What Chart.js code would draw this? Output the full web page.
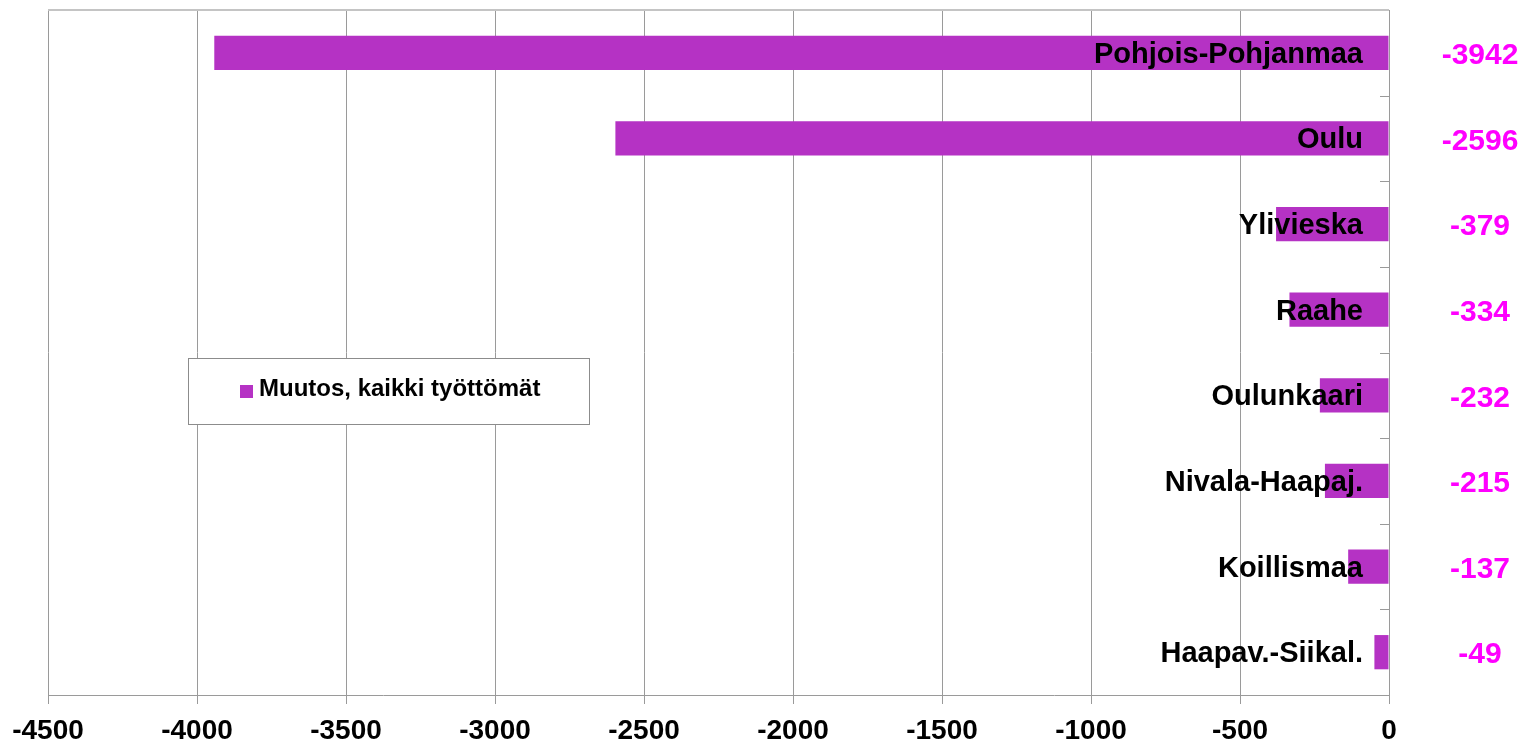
<!DOCTYPE html>
<html>
<head>
<meta charset="utf-8">
<script src="https://cdn.jsdelivr.net/npm/chart.js@4/dist/chart.umd.min.js"></script>
<style>
  html, body { margin: 0; padding: 0; background: #fff; }
  #wrap { width: 1526px; height: 744px; }
</style>
</head>
<body>
<div id="wrap"><canvas id="chart" width="1526" height="744"></canvas></div>
<script>
var regions = ['Pohjois-Pohjanmaa', 'Oulu', 'Ylivieska', 'Raahe', 'Oulunkaari', 'Nivala-Haapaj.', 'Koillismaa', 'Haapav.-Siikal.'];
var change = [-3942, -2596, -379, -334, -232, -215, -137, -49];
var seriesName = 'Muutos, kaikki työttömät';
var xMin = -4500;
var xMax = 0;
var xStep = 500;

var FONT = '"Liberation Sans", Arial, sans-serif';
var BAR = '#B532C4';
var GRID = '#9a9a9a';

// labels, value column, inner ticks, top border and the boxed legend
var decor = {
  id: 'decor',
  afterDatasetsDraw: function(chart) {
    var ctx = chart.ctx;
    var xs = chart.scales.x;
    var ys = chart.scales.y;
    var area = chart.chartArea;
    var zero = xs.getPixelForValue(0);
    ctx.save();

    // top border
    ctx.strokeStyle = '#c4c4c4';
    ctx.lineWidth = 2;
    ctx.beginPath();
    ctx.moveTo(area.left, area.top);
    ctx.lineTo(area.right, area.top);
    ctx.stroke();

    // small inward ticks between the categories
    ctx.strokeStyle = GRID;
    ctx.lineWidth = 1;
    var step = (area.bottom - area.top) / regions.length;
    for (var k = 1; k < regions.length; k++) {
      var ty = Math.round(area.top + step * k) + 0.5;
      ctx.beginPath();
      ctx.moveTo(zero - 9, ty);
      ctx.lineTo(zero, ty);
      ctx.stroke();
    }

    // category names + values
    ctx.textBaseline = 'middle';
    regions.forEach(function(name, i) {
      var y = ys.getPixelForValue(i);
      ctx.font = 'bold 29px ' + FONT;
      ctx.fillStyle = '#000';
      ctx.textAlign = 'right';
      ctx.fillText(name, zero - 26, y + 2);

      ctx.font = 'bold 30px ' + FONT;
      ctx.fillStyle = '#FF00FF';
      ctx.textAlign = 'center';
      ctx.fillText(String(change[i]), zero + 91, y + 3);
    });

    // legend box
    var lx = 188, ly = 358, lw = 401, lh = 66;
    ctx.fillStyle = '#fff';
    ctx.fillRect(lx, ly, lw, lh);
    ctx.strokeStyle = '#8c8c8c';
    ctx.lineWidth = 1;
    ctx.strokeRect(lx + 0.5, ly + 0.5, lw, lh);
    ctx.fillStyle = BAR;
    ctx.fillRect(lx + 52, ly + 27, 13, 13);
    ctx.fillStyle = '#000';
    ctx.font = 'bold 24px ' + FONT;
    ctx.textAlign = 'left';
    ctx.fillText(seriesName, lx + 71, ly + 31);

    ctx.restore();
  }
};

var chart = new Chart(document.getElementById('chart'), {
  type: 'bar',
  data: {
    labels: regions,
    datasets: [{
      label: seriesName,
      data: change,
      backgroundColor: BAR,
      borderWidth: 0,
      barPercentage: 0.4,
      categoryPercentage: 1
    }]
  },
  options: {
    indexAxis: 'y',
    responsive: false,
    devicePixelRatio: 1,
    animation: false,
    layout: {
      padding: { left: 48, right: 137, top: 10, bottom: 0 }
    },
    plugins: {
      legend: { display: false },
      tooltip: { enabled: false }
    },
    scales: {
      x: {
        min: xMin,
        max: xMax,
        afterFit: function(scale) { scale.height = 49; },
        ticks: {
          stepSize: xStep,
          color: '#000',
          font: { family: FONT, size: 28, weight: 'bold' },
          padding: 10,
          maxRotation: 0,
          callback: function(v) { return String(v); }
        },
        grid: {
          color: GRID,
          tickLength: 9,
          tickColor: GRID
        },
        border: { color: GRID }
      },
      y: {
        display: false
      }
    }
  },
  plugins: [decor]
});
</script>
</body>
</html>
